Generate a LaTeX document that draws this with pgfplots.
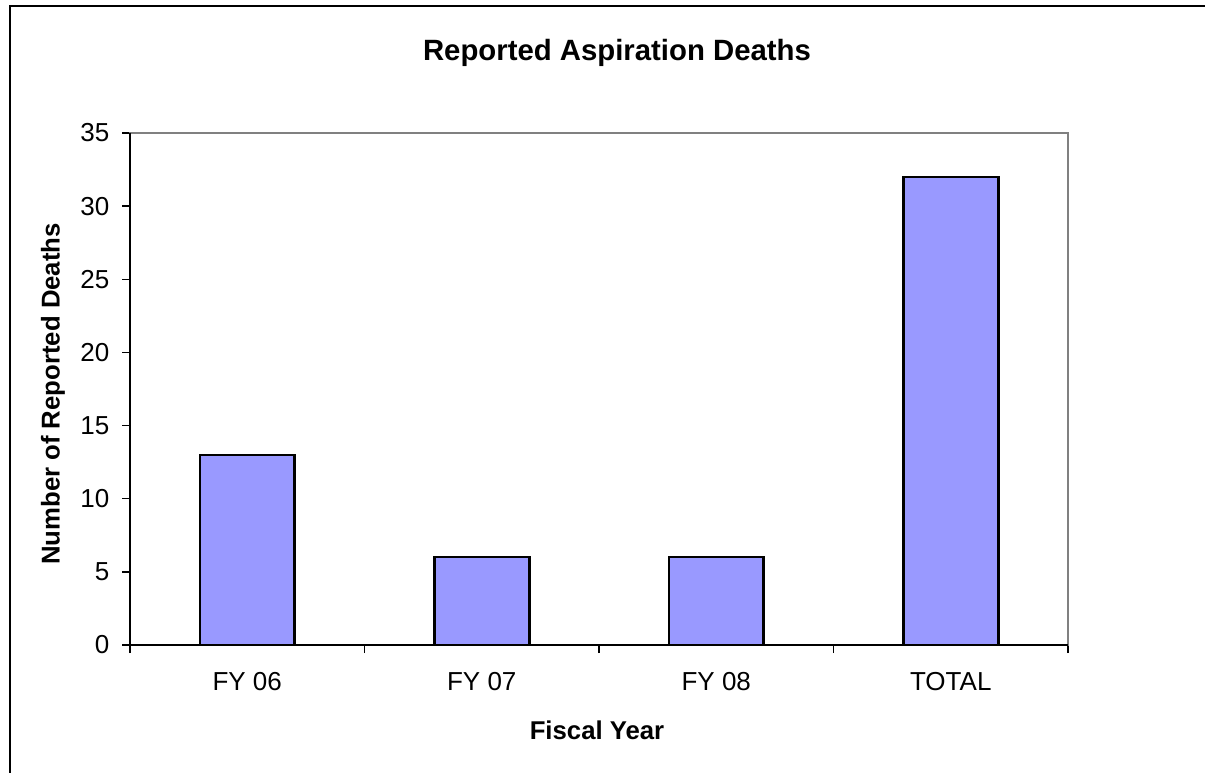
\documentclass[border=0pt]{standalone}
\usepackage{pgfplots}
\pgfplotsset{compat=1.18}
\usepackage{fontspec}
\setmainfont{Liberation Sans}
\definecolor{barblue}{HTML}{9999FF}
\definecolor{framegray}{HTML}{808080}
\begin{document}
\begin{tikzpicture}[x=0.75pt,y=0.75pt]
\path[use as bounding box] (0,0) rectangle (1205,772);
\draw[black,line width=1.3pt] (10,-2) -- (10,766) -- (1207,766);
\begin{axis}[
  at={(97.5pt,95.25pt)}, anchor=south west,
  width=703.5pt, height=384pt, scale only axis,
  xmin=-0.5, xmax=3.5, ymin=0, ymax=35,
  ytick={0,5,...,35},
  xtick={-0.5,0.5,1.5,2.5,3.5}, xticklabels={},
  extra x ticks={0,1,2,3},
  extra x tick labels={FY 06,FY 07,FY 08,TOTAL},
  extra x tick style={major tick length=0pt, xticklabel style={yshift=-17pt}},
  xtick pos=bottom, ytick pos=left,
  tick align=outside,
  major tick length=6pt,
  tick style={black, line width=1pt},
  axis line style={draw=framegray, line width=1.5pt},
  ticklabel style={font=\fontsize{19.5}{22}\selectfont},
  /pgf/number format/assume math mode=true,
  yticklabel style={xshift=-6pt},
  clip=false,
]
\addplot[ybar, bar width=0.405, fill=barblue, draw=black, line width=1.9pt]
  coordinates {(0,13) (1,6) (2,6) (3,32)};
\draw[black, line width=1.5pt] (rel axis cs:0,1) -- (rel axis cs:0,0) -- (rel axis cs:1,0);
\end{axis}
\node[font=\bfseries\fontsize{22}{26}\selectfont] at (617,719) {Reported Aspiration Deaths};
\node[font=\bfseries\fontsize{19.3}{23}\selectfont] at (597,42) {Fiscal Year};
\node[font=\bfseries\fontsize{19.3}{23}\selectfont, rotate=90] at (53,378) {Number of Reported Deaths};
\end{tikzpicture}
\end{document}
